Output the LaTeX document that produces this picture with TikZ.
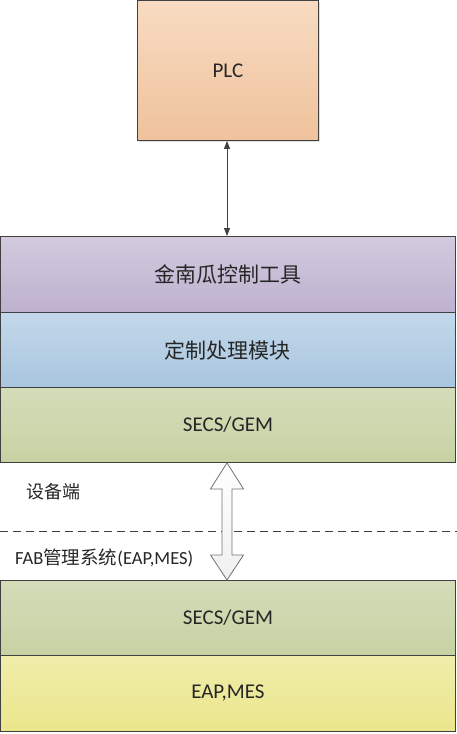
\documentclass[tikz,border=0pt]{standalone}
\usepackage{fontspec}
\setmainfont{Carlito}
\newfontfamily\cjk{Noto Sans CJK SC}
\usetikzlibrary{arrows.meta,calc,shadows}

\definecolor{edgegray}{HTML}{404040}
\definecolor{textgray}{HTML}{262626}
\definecolor{plctop}{HTML}{F8DBC2}
\definecolor{plcbot}{HTML}{EFC29C}
\definecolor{purptop}{HTML}{D2CADE}
\definecolor{purpbot}{HTML}{BEB1CF}
\definecolor{bluetop}{HTML}{C3D8EA}
\definecolor{bluebot}{HTML}{A8C5DF}
\definecolor{greentop}{HTML}{D5DCB9}
\definecolor{greenbot}{HTML}{C7D2A3}
\definecolor{yeltop}{HTML}{F0EDAA}
\definecolor{yelbot}{HTML}{EBE68C}

\tikzset{
    layer/.style={draw=edgegray, line width=0.9pt, rectangle, anchor=north west,
        minimum width=455pt, minimum height=76pt, inner sep=0pt,
        text=textgray, font=\fontsize{21}{24}\selectfont},
    boxshadow/.style={drop shadow={shadow xshift=1.5pt, shadow yshift=-1.5pt,
        opacity=1, fill=black!12}}
}

\begin{document}
\begin{tikzpicture}[x=1pt, y=-1pt]
        \useasboundingbox (0,0) rectangle (457,734);
        % device side
        \node[layer, boxshadow, minimum width=181pt, minimum height=140pt,
            top color=plctop, bottom color=plcbot] (plc) at (137,0) {PLC};
        \node[layer, top color=purptop, bottom color=purpbot] (pumpkin) at (0,236)
            {\cjk 金南瓜控制工具};
        \node[layer, top color=bluetop, bottom color=bluebot] (custom) at (0,312)
            {\cjk 定制处理模块};
        \node[layer, minimum height=75pt, top color=greentop, bottom color=greenbot] (secs) at (0,387)
            {SECS/GEM};
        % fab side
        \node[layer, minimum height=75pt, top color=greentop, bottom color=greenbot] (fabsecs) at (0,580)
            {SECS/GEM};
        \node[layer, top color=yeltop, bottom color=yelbot] (eapmes) at (0,655)
            {EAP,MES};
        \draw[edgegray, line width=0.9pt, {Triangle[width=6pt,length=8pt]}-{Triangle[width=6pt,length=8pt]}]
            (plc.south -| 227,0) -- (pumpkin.north -| 227,0);
        % boundary
        \coordinate (cutleft) at (0,531);
        \coordinate (cutright) at (457,531);
        \draw[edgegray, line width=0.8pt, dash pattern=on 8pt off 5pt] (cutleft) -- (cutright);
        \node[text=textgray, font=\cjk\fontsize{18}{20}\selectfont] (devside) at (53,492) {设备端};
        \node[text=textgray, anchor=west, inner sep=0pt, font=\fontsize{18.5}{20}\selectfont] (fabside) at (15,558)
            {FAB{\cjk 管理系统}(EAP,MES)};
        % big double arrow
        \coordinate (uptip) at (secs.south -| 227,0);
        \coordinate (downtip) at (fabsecs.north -| 227,0);
        \draw[draw=black!55, line width=0.8pt, top color=white, bottom color=black!6]
            (uptip) -- ($(uptip)+(16.5,26)$) -- ($(uptip)+(5,26)$)
            -- ($(downtip)+(5,-25)$) -- ($(downtip)+(16.5,-25)$) -- (downtip)
            -- ($(downtip)+(-16.5,-25)$) -- ($(downtip)+(-5,-25)$)
            -- ($(uptip)+(-5,26)$) -- ($(uptip)+(-16.5,26)$) -- cycle;
    \end{tikzpicture}
\end{document}
